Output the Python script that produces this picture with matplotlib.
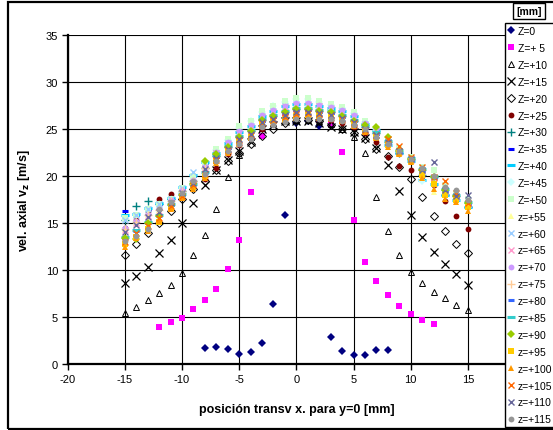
import matplotlib
matplotlib.use("Agg")
import matplotlib.pyplot as plt
from matplotlib.patches import Rectangle

plt.rcParams['font.family'] = ['Liberation Sans', 'DejaVu Sans']
plt.rcParams['axes.unicode_minus'] = False

x_full = list(range(-15, 16))
x_ticks = [-20, -15, -10, -5, 0, 5, 10, 15, 20]
x_ticklabels = ["-20", "-15", "-10", "-5", "0", "5", "10", "15", ""]
y_ticks = [0, 5, 10, 15, 20, 25, 30, 35]

# Z=0
x_z0 = [-8, -7, -6, -5, -4, -3, -2, -1, 0, 1, 2, 3, 4, 5, 6, 7, 8]
y_z0 = [1.7, 1.8, 1.6, 1.1, 1.3, 2.2, 6.4, 15.8, 25.6, 25.8, 25.3, 2.9, 1.4, 1.0, 1.0, 1.5, 1.5]
# Z=+5
x_z5 = list(range(-12, 13))
y_z5 = [3.9, 4.5, 4.9, 5.8, 6.8, 8.0, 10.1, 13.2, 18.3, 24.3, 25.8, 26.2, 26.4, 26.3, 26.0, 25.5,
        22.6, 15.35, 10.9, 8.8, 7.3, 6.2, 5.3, 4.7, 4.3]
# Z=+10
y_z10 = [5.4, 6.1, 6.8, 7.55, 8.4, 9.7, 11.6, 13.75, 16.5, 19.9, 22.2, 24.2, 25.1, 25.6, 25.9, 26.0,
         26.0, 25.8, 25.5, 25.0, 24.2, 22.4, 17.8, 14.15, 11.6, 9.8, 8.65, 7.7, 7.0, 6.3, 5.7]
# Z=+15
y_z15 = [8.65, 9.4, 10.35, 11.8, 13.2, 15.0, 17.1, 19.0, 20.6, 21.7, 22.7, 23.6, 25.0, 25.4, 25.8, 25.9,
         25.8, 25.6, 25.2, 25.0, 24.7, 24.0, 23.0, 21.2, 18.4, 15.8, 13.5, 11.9, 10.6, 9.6, 8.4]
# Z=+20
y_z20 = [11.6, 12.8, 13.9, 15.0, 16.3, 17.6, 18.6, 19.5, 20.6, 21.6, 22.5, 23.4, 24.3, 25.0, 25.6, 25.9,
         26.0, 25.8, 25.4, 25.0, 24.6, 23.9, 22.9, 22.1, 21.0, 19.7, 17.8, 15.7, 14.2, 12.8, 11.8]
# Z=+25
y_z25 = [14.5, 15.3, 16.3, 17.6, 18.1, 18.6, 19.0, 19.7, 20.9, 22.3, 23.3, 24.0, 25.0, 25.8, 26.3, 26.6,
         26.6, 26.4, 26.0, 25.6, 25.2, 24.6, 23.6, 22.0, 21.1, 20.6, 20.0, 19.0, 17.3, 15.7, 14.4]
y_z30 = [15.3, 16.8, 17.3, 17.0, 17.6, 18.4, 19.5, 20.9, 22.1, 23.1, 24.2, 24.8, 26.0, 26.4, 26.8, 27.1,
         27.1, 26.9, 26.8, 26.4, 25.9, 25.2, 24.6, 23.6, 22.5, 21.8, 20.1, 19.9, 18.0, 17.9, 16.7]
y_z35 = [16.3, 15.9, 16.5, 17.0, 17.6, 18.7, 20.0, 21.4, 22.0, 23.0, 24.1, 24.9, 25.9, 26.3, 26.7, 27.0,
         27.0, 26.8, 26.7, 26.3, 25.8, 25.1, 24.5, 23.6, 22.7, 21.8, 20.6, 19.9, 18.5, 17.9, 17.1]
y_z40 = [15.9, 16.0, 16.6, 17.1, 17.7, 18.8, 20.1, 21.5, 22.5, 23.5, 24.7, 25.3, 26.4, 26.9, 27.4, 27.7,
         27.7, 27.5, 27.2, 26.9, 26.4, 25.5, 24.9, 23.3, 22.5, 21.6, 19.6, 19.1, 18.0, 17.5, 16.7]
y_z45 = [14.4, 15.1, 15.8, 16.4, 17.3, 18.4, 19.5, 20.9, 22.8, 23.8, 25.2, 25.8, 26.8, 27.4, 27.9, 28.2,
         28.2, 27.9, 27.6, 27.2, 26.7, 25.7, 25.1, 23.6, 22.7, 21.8, 19.5, 19.9, 18.5, 17.9, 17.1]
y_z50 = [15.5, 15.9, 16.5, 17.0, 17.6, 18.7, 20.0, 21.4, 22.9, 23.9, 25.3, 25.9, 26.9, 27.5, 28.0, 28.3,
         28.3, 28.0, 27.7, 27.3, 26.8, 25.8, 25.0, 23.9, 23.0, 22.0, 21.0, 20.6, 19.0, 18.2, 17.6]
y_z55 = [14.4, 15.1, 15.8, 16.4, 17.3, 18.4, 19.5, 20.9, 22.5, 23.5, 24.7, 25.3, 26.4, 26.9, 27.4, 27.7,
         27.8, 27.6, 27.3, 26.9, 26.4, 25.5, 24.9, 23.3, 22.5, 21.6, 20.1, 18.3, 18.0, 17.5, 16.7]
y_z60 = [15.3, 15.9, 16.5, 17.0, 17.6, 18.7, 20.4, 21.4, 22.5, 23.5, 24.7, 25.3, 26.4, 26.9, 27.4, 27.7,
         27.7, 27.5, 27.2, 26.9, 26.4, 25.5, 24.9, 23.6, 22.7, 21.8, 20.6, 19.9, 18.5, 17.9, 17.1]
y_z65 = [14.3, 15.0, 15.7, 16.3, 17.2, 18.3, 19.4, 20.8, 22.4, 23.4, 24.6, 25.2, 26.3, 26.8, 27.3, 27.6,
         27.6, 27.4, 27.1, 26.8, 26.3, 25.4, 24.8, 23.5, 22.6, 21.7, 20.5, 19.8, 18.4, 17.8, 17.0]
y_z70 = [14.5, 15.2, 15.9, 16.5, 17.4, 18.5, 19.6, 21.0, 22.6, 23.6, 24.8, 25.4, 26.5, 27.0, 27.5, 27.8,
         27.8, 27.6, 27.3, 27.0, 26.5, 25.6, 25.0, 23.3, 22.5, 21.6, 20.1, 19.1, 18.0, 17.5, 16.7]
y_z75 = [14.4, 15.1, 15.8, 16.4, 17.3, 18.4, 19.5, 20.9, 22.1, 23.1, 24.2, 24.8, 26.0, 26.4, 26.8, 27.1,
         27.1, 26.9, 26.8, 26.4, 25.9, 25.2, 24.6, 23.6, 22.7, 21.8, 20.6, 19.9, 18.5, 17.9, 17.1]
y_z80 = [13.4, 14.2, 15.0, 15.7, 16.9, 18.0, 19.1, 20.3, 22.0, 23.0, 24.1, 24.7, 25.9, 26.3, 26.7, 27.0,
         27.0, 26.8, 26.7, 26.3, 25.8, 25.1, 24.5, 23.5, 22.6, 21.7, 20.5, 19.8, 18.4, 17.8, 17.0]
y_z85 = [13.5, 14.3, 15.1, 15.8, 17.0, 18.1, 19.2, 20.4, 22.2, 23.2, 24.3, 24.9, 26.1, 26.5, 26.9, 27.2,
         27.2, 27.0, 26.9, 26.5, 26.0, 25.3, 24.7, 23.7, 22.8, 21.9, 20.7, 20.0, 18.6, 18.0, 17.2]
y_z90 = [13.4, 13.3, 15.0, 15.7, 16.9, 18.0, 19.1, 21.6, 22.3, 23.1, 24.2, 24.8, 26.0, 26.4, 26.8, 27.1,
         27.1, 26.9, 26.8, 26.4, 25.9, 25.4, 25.2, 24.2, 22.7, 21.8, 20.6, 19.9, 18.5, 17.9, 17.1]
y_z95 = [12.8, 13.5, 14.4, 15.1, 16.6, 17.8, 18.8, 20.0, 21.6, 22.7, 23.6, 24.2, 25.5, 25.8, 26.1, 26.4,
         26.5, 26.4, 26.3, 26.0, 25.5, 24.8, 24.2, 23.3, 22.5, 21.6, 20.1, 19.1, 18.0, 17.5, 16.7]
y_z100 = [12.4, 13.4, 14.2, 15.2, 16.5, 17.7, 18.6, 19.8, 21.4, 22.5, 23.4, 24.0, 25.3, 25.6, 26.0, 26.2,
          26.3, 26.2, 26.1, 25.8, 25.3, 24.7, 24.0, 23.1, 22.3, 21.5, 19.8, 18.6, 17.6, 17.2, 16.3]
y_z105 = [13.0, 13.9, 14.7, 15.5, 16.8, 17.9, 19.0, 20.2, 21.7, 22.8, 23.8, 24.4, 25.6, 26.0, 26.3, 26.6,
          26.7, 26.6, 26.5, 26.1, 25.6, 24.9, 24.4, 23.9, 23.2, 22.0, 21.0, 19.9, 19.5, 18.2, 17.1]
y_z110 = [14.0, 14.8, 15.6, 16.2, 17.1, 18.2, 19.3, 20.7, 21.9, 22.9, 23.9, 24.5, 25.7, 26.1, 26.5, 26.8,
          26.8, 26.7, 26.5, 26.2, 25.7, 25.0, 24.4, 23.6, 22.7, 21.8, 20.6, 21.5, 18.5, 17.9, 18.0]
y_z115 = [13.1, 13.6, 14.4, 16.5, 17.2, 18.2, 19.5, 20.2, 21.6, 22.7, 23.4, 23.9, 25.2, 25.4, 25.7, 26.1,
          26.1, 26.1, 26.1, 25.9, 25.4, 25.0, 24.1, 23.4, 22.7, 21.8, 20.9, 20.0, 18.8, 18.5, 17.5]

labels = ["Z=0", "Z=+ 5", "Z=+10", "Z=+15", "Z=+20", "Z=+25", "Z=+30", "Z=+35", "Z=+40",
          "Z=+45", "Z=+50", "z=+55", "z=+60", "z=+65", "z=+70", "z=+75", "z=+80", "z=+85",
          "z=+90", "z=+95", "z=+100", "z=+105", "z=+110", "z=+115"]

series = [
    (x_z0, y_z0), (x_z5, y_z5), (x_full, y_z10), (x_full, y_z15), (x_full, y_z20),
    (x_full, y_z25), (x_full, y_z30), (x_full, y_z35), (x_full, y_z40), (x_full, y_z45),
    (x_full, y_z50), (x_full, y_z55), (x_full, y_z60), (x_full, y_z65), (x_full, y_z70),
    (x_full, y_z75), (x_full, y_z80), (x_full, y_z85), (x_full, y_z90), (x_full, y_z95),
    (x_full, y_z100), (x_full, y_z105), (x_full, y_z110), (x_full, y_z115),
]

# (marker, color, markersize, filled, edge width)
styles = [
    ('D', '#000080', 4.0, True, 0),
    ('s', '#FF00FF', 3.8, True, 0),
    ('^', '#000000', 4.6, False, 0.7),
    ('x', '#000000', 5.2, False, 0.9),
    ('D', '#000000', 4.2, False, 0.7),
    ('o', '#800000', 4.2, True, 0),
    ('+', '#008080', 5.5, False, 1.0),
    ('_', '#0000FF', 4.0, False, 2.2),
    ('_', '#00CCFF', 6.0, False, 2.2),
    ('D', '#CCFFFF', 4.0, True, 0),
    ('s', '#CCFFCC', 3.8, True, 0),
    ('^', '#FFFF99', 4.6, True, 0),
    ('x', '#99CCFF', 5.0, False, 1.0),
    ('x', '#FF99CC', 5.0, False, 1.0),
    ('o', '#CC99FF', 4.2, True, 0),
    ('+', '#FFCC99', 5.5, False, 1.0),
    ('_', '#3366FF', 4.0, False, 2.2),
    ('_', '#33CCCC', 6.0, False, 2.2),
    ('D', '#99CC00', 4.0, True, 0),
    ('s', '#FFCC00', 3.8, True, 0),
    ('^', '#FF9900', 4.6, True, 0),
    ('x', '#FF6600', 5.0, False, 1.0),
    ('x', '#666699', 5.0, False, 1.0),
    ('o', '#969696', 4.2, True, 0),
]

W, H = 553, 431
fig = plt.figure(figsize=(W / 100, H / 100), dpi=100)
ax = fig.add_axes([67.7 / W, 1 - 365 / H, (525 - 67.7) / W, (365 - 36) / H])

handles = []
for (xs, ys), (m, c, ms, filled, ew), lab in zip(series, styles, labels):
    if filled:
        h, = ax.plot(xs, ys, linestyle='none', marker=m, markersize=ms,
                     markerfacecolor=c, markeredgecolor=c, markeredgewidth=0, label=lab)
    elif m in ('x', '+', '_'):
        h, = ax.plot(xs, ys, linestyle='none', marker=m, markersize=ms,
                     color=c, markeredgewidth=ew, label=lab)
    else:
        h, = ax.plot(xs, ys, linestyle='none', marker=m, markersize=ms,
                     markerfacecolor='none', markeredgecolor=c, markeredgewidth=ew, label=lab)
    handles.append(h)

ax.set_xlim(-20, 20)
ax.set_ylim(0, 35)
ax.set_xticks(x_ticks)
ax.set_xticklabels(x_ticklabels)
ax.set_yticks(y_ticks)
ax.grid(True, color='#000000', linewidth=0.8)
ax.set_axisbelow(True)
for s in ('top', 'right'):
    ax.spines[s].set_visible(False)
for s in ('left', 'bottom'):
    ax.spines[s].set_linewidth(1.6)
ax.tick_params(direction='out', length=4, width=1, labelsize=8, colors='black', pad=3)

ax.set_xlabel('posición transv x. para y=0 [mm]', fontsize=9, fontweight='bold', labelpad=14)
ax.set_ylabel(r'vel. axial v$_\mathbf{z}$ [m/s]', fontsize=9, fontweight='bold', labelpad=10)

# outer chart border
fig.patches.append(Rectangle((7.5 / W, 1.5 / H), 1.2, (H - 4.5) / H, transform=fig.transFigure,
                             fill=False, edgecolor='black', linewidth=1.6, clip_on=False))

leg = fig.legend(handles=handles, loc='upper left', bbox_to_anchor=(504.5 / W, 1 - 24 / H),
                 fontsize=7.5, frameon=True, fancybox=False, borderpad=0.3,
                 labelspacing=0.66, handlelength=0.7, handletextpad=0.3, borderaxespad=0)
leg.get_frame().set_edgecolor('black')
leg.get_frame().set_linewidth(1.0)
leg.get_frame().set_alpha(1)

fig.text(529 / W, 1 - 12 / H, '[mm]', fontsize=7.5, fontweight='bold', ha='center', va='center',
         bbox=dict(boxstyle='square,pad=0.3', facecolor='white', edgecolor='black', linewidth=1.0))

fig.savefig('out.png', dpi=100)
